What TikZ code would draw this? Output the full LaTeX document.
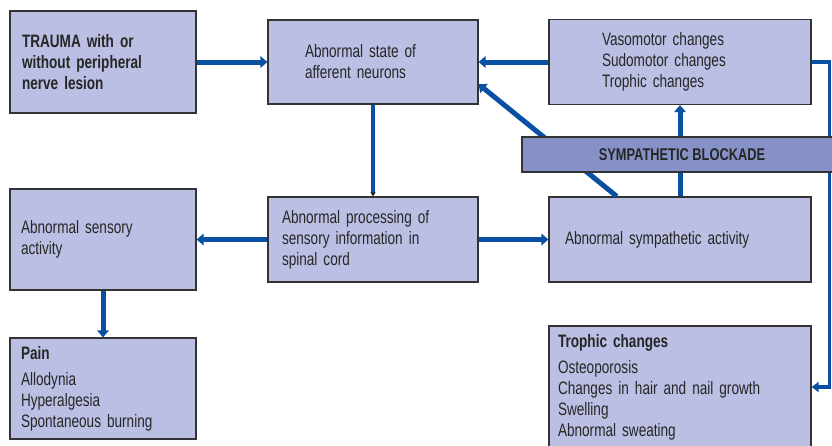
\documentclass[tikz,border=0pt]{standalone}
\usepackage{fontspec}
\setmainfont{Liberation Sans}[FakeStretch=0.755]
\usetikzlibrary{arrows.meta, calc}
\definecolor{CRPSBox}{HTML}{BBBFE3}
\definecolor{CRPSBar}{HTML}{8591C7}
\definecolor{CRPSBlue}{HTML}{0A50A2}
\definecolor{CRPSEdge}{HTML}{333333}
\definecolor{CRPSInk}{HTML}{262626}
\tikzset{
    % Default text
    every node/.style={font=\fontsize{18}{21}\selectfont, text=CRPSInk},
    % Box style
    panel/.style={
        rectangle,
        draw=CRPSEdge,
        line width=1.2pt,
        fill=CRPSBox,
        align=left,
        inner ysep=0pt
    },
    % Blockade bar style
    blockade/.style={
        rectangle,
        draw=CRPSEdge,
        line width=1.2pt,
        fill=CRPSBar,
        inner sep=0pt,
        font=\fontsize{17}{20}\selectfont\bfseries
    },
    % Arrow style
    arrow/.style={
        -{Triangle[length=7pt,width=11.5pt]},
        line width=5pt,
        draw=CRPSBlue
    },
    % Feedback arrow style
    feedback/.style={
        -{Triangle[length=7pt,width=10pt]},
        line width=3.4pt,
        draw=CRPSBlue
    }
}

\begin{document}
\begin{tikzpicture}[x=1pt, y=-1pt]
    \useasboundingbox (0,0) rectangle (832,445);
    \clip (0,0) rectangle (832,445);

    % Top row
    \node (trauma) [panel, text width=162pt, inner xsep=12pt, minimum height=102pt, font=\fontsize{18}{21}\selectfont\bfseries] at (103,62) {TRAUMA with or\\without peripheral\\nerve lesion};
    \node (aff) [panel, text width=136pt, inner xsep=37pt, minimum height=84pt] at (373,62) {Abnormal state of\\afferent neurons};
    \node (vaso) [panel, text width=156pt, inner xsep=53pt, minimum height=85pt] at (680,62) {Vasomotor changes\\Sudomotor changes\\Trophic changes};

    % Middle row
    \node (sens) [panel, text width=164pt, inner xsep=11pt, minimum height=101pt] at (103,239.5) {Abnormal sensory\\activity};
    \node (proc) [panel, text width=182pt, inner xsep=14pt, minimum height=85pt] at (373,239.5) {Abnormal processing of\\sensory information in\\spinal cord};
    \node (symp) [panel, text width=230pt, inner xsep=16pt, minimum height=85pt] at (680,239.5) {Abnormal sympathetic activity};

    % Bottom row
    \node (pain) [panel, text width=164pt, inner xsep=11pt, minimum height=101pt] at (103,388.5) {\textbf{Pain}\\[5pt]Allodynia\\Hyperalgesia\\Spontaneous burning};
    \node (troph) [panel, text width=244pt, inner xsep=9pt, minimum height=122pt] at (680,387) {\textbf{Trophic changes}\\[5pt]Osteoporosis\\Changes in hair and nail growth\\Swelling\\Abnormal sweating};

    % Connectors
    \draw [arrow] (trauma) -- (aff);
    \draw [arrow] (vaso) -- (aff);
    \draw [arrow, line width=4.5pt, -{Triangle[length=4pt,width=5pt,color=CRPSInk]}] (aff) -- (proc);
    \draw [arrow] (proc) -- (sens);
    \draw [arrow] (proc) -- (symp);
    \draw [arrow] (sens) -- (pain);
    \draw [arrow] (symp) -- (vaso);
    \draw [arrow] ($(symp.north west)!0.26!(symp.north east)$) -- ($(aff.north east)!0.76!(aff.south east)$);
    \draw [feedback] (vaso.east) -- ++(18,0) |- (troph.east);

    % Blockade across the sympathetic outputs
    \node (block) [blockade, minimum width=320pt, minimum height=35pt] at (682,154.5) {SYMPATHETIC BLOCKADE};
\end{tikzpicture}
\end{document}
